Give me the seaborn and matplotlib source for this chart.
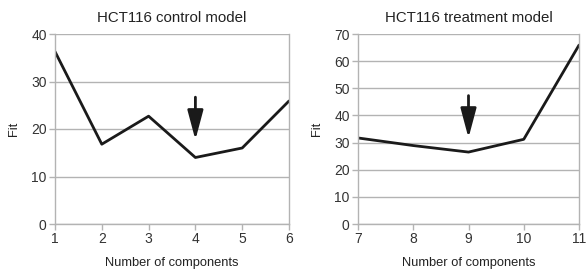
import matplotlib
matplotlib.use("Agg")
import matplotlib.pyplot as plt
import seaborn as sns
import pandas as pd

control_components = [1, 2, 3, 4, 5, 6]
control_fit = [36.3, 16.8, 22.7, 14.0, 16.0, 25.9]
treatment_components = [7, 8, 9, 10, 11]
treatment_fit = [31.7, 28.9, 26.5, 31.2, 65.9]

control_arrow = (4, 26.7, 17.7)
treatment_arrow = (9, 47.3, 31.7)

sns.set_theme(style="white")
plt.rcParams["font.family"] = ["Liberation Sans", "DejaVu Sans"]

W, H = 586, 273
fig = plt.figure(figsize=(W / 100, H / 100), dpi=100)
bottom = 1 - 224 / H
height = (224 - 34) / H
ax_left = fig.add_axes([55 / W, bottom, (289 - 55) / W, height])
ax_right = fig.add_axes([358 / W, bottom, (579 - 358) / W, height])

panels = [
    (ax_left, control_components, control_fit, control_arrow,
     "HCT116 control model", 40, 10),
    (ax_right, treatment_components, treatment_fit, treatment_arrow,
     "HCT116 treatment model", 70, 10),
]

for ax, xs, ys, arrow, title, ymax, ystep in panels:
    df = pd.DataFrame({"x": xs, "y": ys})
    sns.lineplot(data=df, x="x", y="y", ax=ax, color="#1a1a1a", linewidth=2.0)
    ax.set_xlim(xs[0], xs[-1])
    ax.set_ylim(0, ymax)
    ax.set_xticks(xs)
    ax.set_yticks(range(0, ymax + 1, ystep))
    ax.yaxis.grid(True, color="#b3b3b3", linewidth=1.0)
    ax.set_axisbelow(True)
    ax.spines["top"].set_visible(False)
    for side in ["left", "bottom", "right"]:
        ax.spines[side].set_color("#b3b3b3")
        ax.spines[side].set_linewidth(1.0)
    ax.tick_params(axis="both", which="both", length=4, width=1.0,
                   color="#b3b3b3", labelsize=10, labelcolor="#333333",
                   bottom=True, left=True, pad=2)
    ax.set_title(title, fontsize=10.8, color="#222222", pad=9)
    ax.set_xlabel("Number of components", fontsize=9.3, color="#222222", labelpad=8)
    ax.set_ylabel("Fit", fontsize=9.3, color="#222222", labelpad=8)
    x_arrow, y_start, y_end = arrow
    ax.annotate("", xy=(x_arrow, y_end), xytext=(x_arrow, y_start),
                arrowprops=dict(arrowstyle="-|>,head_width=0.4,head_length=1.5",
                                color="#1a1a1a", lw=2.0, shrinkA=0, shrinkB=0))

fig.savefig("out.png", dpi=100)
